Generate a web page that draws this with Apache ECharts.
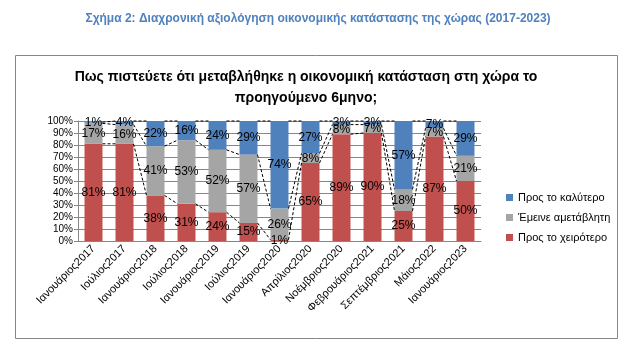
<!DOCTYPE html>
<html><head><meta charset="utf-8">
<script src="https://cdn.jsdelivr.net/npm/echarts@6/dist/echarts.min.js"></script>
<style>html,body{margin:0;padding:0;background:#fff}#c{width:640px;height:348px}</style>
</head><body><div id="c"></div>
<script>
const categories = ['Ιανουάριος2017','Ιούλιος2017','Ιανουάριος2018','Ιούλιος2018','Ιανουάριος2019','Ιούλιος2019','Ιανουάριος2020','Απρίλιος2020','Νοέμβριος2020','Φεβρουάριος2021','Σεπτέμβριος2021','Μάιος2022','Ιανουάριος2023'];
const worse  = [81, 81, 38, 31, 24, 15, 1, 65, 89, 90, 25, 87, 50];
const same   = [17, 16, 41, 53, 52, 57, 26, 8, 8, 7, 18, 7, 21];
const better = [1, 4, 22, 16, 24, 29, 74, 27, 3, 3, 57, 7, 29];
const seriesNames = ['Προς το καλύτερο', 'Έμεινε αμετάβλητη', 'Προς το χειρότερο'];
const yTicks = [0,10,20,30,40,50,60,70,80,90,100];

const FONT = 'Liberation Sans Narrow, Liberation Sans, Arial, sans-serif';
const BAR_RATIO = 0.58;
const chart = echarts.init(document.getElementById('c'));
const labelCfg = {show:true, position:'inside', formatter: p => p.value + '%', color:'#000', fontSize:12, fontFamily:FONT};

const bounds = [worse.map((v,i)=>v), worse.map((v,i)=>v+same[i]), worse.map((v,i)=>v+same[i]+better[i])];

chart.setOption({
  animation:false,
  title:[
    {text:'Σχήμα 2: Διαχρονική αξιολόγηση οικονομικής κατάστασης της χώρας (2017-2023)', left:313, top:8, textAlign:'center',
     textStyle:{color:'#4F81BD', fontSize:12, fontWeight:'bold', fontFamily:'Liberation Sans, Arial, sans-serif'}},
    {text:'Πως πιστεύετε ότι μεταβλήθηκε η οικονομική κατάσταση στη χώρα το\nπροηγούμενο 6μηνο;', left:301, top:62, textAlign:'center',
     textStyle:{color:'#000', fontSize:14, fontWeight:'bold', lineHeight:21, fontFamily:'Liberation Sans, Arial, sans-serif'}}
  ],
  graphic:[{type:'rect', shape:{x:15.5, y:55.5, width:602, height:283}, style:{fill:'none', stroke:'#868686', lineWidth:1}, z:-1}],
  legend:{orient:'vertical', left:501, top:187, itemWidth:7, itemHeight:7, itemGap:9, icon:'rect',
    data:seriesNames, textStyle:{fontSize:11, fontFamily:'Liberation Sans, Arial, sans-serif', color:'#000'}},
  grid:{left:78, right:159, top:121, bottom:107, containLabel:false},
  xAxis:{type:'category', data:categories,
    axisLine:{lineStyle:{color:'#868686'}}, axisTick:{alignWithLabel:false, length:4, lineStyle:{color:'#868686'}},
    axisLabel:{rotate:45, interval:0, fontSize:11, fontFamily:FONT, color:'#000', margin:6}},
  yAxis:{type:'value', min:0, max:100, interval:10,
    axisLine:{show:true, lineStyle:{color:'#868686'}}, axisTick:{show:true, length:4, lineStyle:{color:'#868686'}},
    splitLine:{lineStyle:{color:'#868686', width:1}},
    axisLabel:{formatter:'{value}%', fontSize:10, fontFamily:FONT, color:'#000', margin:5}},
  series:[
    {name:seriesNames[2], type:'bar', stack:'t', data:worse, barWidth:(BAR_RATIO*100)+'%', itemStyle:{color:'#C0504D'}, label:labelCfg},
    {name:seriesNames[1], type:'bar', stack:'t', data:same, itemStyle:{color:'#A5A5A5'}, label:labelCfg},
    {name:seriesNames[0], type:'bar', stack:'t', data:better, itemStyle:{color:'#4F81BD'}, label:labelCfg},
    {type:'custom', z:5, silent:true, data:categories.slice(0,-1).map((c,i)=>[i]),
      renderItem:function(params, api){
        const i = api.value(0);
        const half = api.size([1,0])[0]*BAR_RATIO/2;
        const children = bounds.map(b=>{
          const p1 = api.coord([i, Math.min(b[i],100)]);
          const p2 = api.coord([i+1, Math.min(b[i+1],100)]);
          return {type:'line', shape:{x1:p1[0]+half, y1:p1[1], x2:p2[0]-half, y2:p2[1]},
            style:{stroke:'#000', lineWidth:1, lineDash:[3,2]}};
        });
        return {type:'group', children:children};
      }}
  ]
});
</script></body></html>
